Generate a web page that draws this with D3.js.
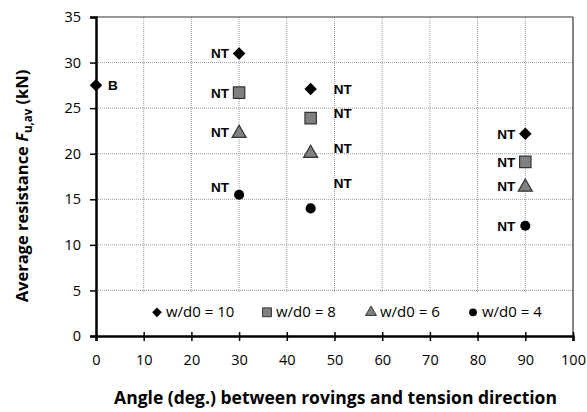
<!DOCTYPE html>
<html>
<head>
<meta charset="utf-8">
<script src="https://cdn.jsdelivr.net/npm/d3@7"></script>
<style>
  body { margin: 0; background: #fff; }
  svg { display: block; }
  .tick text { font-family: "Open Sans", sans-serif; font-size: 14.5px; fill: #000; }
  .lbl { font-family: Arial, "Liberation Sans", sans-serif; font-weight: bold; font-size: 13.5px; }
</style>
</head>
<body>
<svg id="chart" width="587" height="412"></svg>
<script>
// values
const angles = [0, 30, 45, 90];
const wd10 = [27.5, 31.0, 27.1, 22.2];
const wd8 = [null, 26.7, 23.9, 19.1];
const wd6 = [null, 22.4, 20.2, 16.5];
const wd4 = [null, 15.5, 14.0, 12.1];
const seriesNames = ["w/d0 = 10", "w/d0 = 8", "w/d0 = 6", "w/d0 = 4"];
const xTicks = [0, 10, 20, 30, 40, 50, 60, 70, 80, 90, 100];
const yTicks = [0, 5, 10, 15, 20, 25, 30, 35];

// text notes: [angle, value where label sits, text, side]
const notes = [
  [0, 27.5, "B", "right"],
  [30, 31.0, "NT", "left"], [30, 26.7, "NT", "left"], [30, 22.4, "NT", "left"], [30, 16.3, "NT", "left"],
  [45, 27.1, "NT", "right"], [45, 24.5, "NT", "right"], [45, 20.6, "NT", "right"], [45, 16.8, "NT", "right"],
  [90, 22.2, "NT", "left"], [90, 19.1, "NT", "left"], [90, 16.5, "NT", "left"], [90, 12.1, "NT", "left"]
];

const svg = d3.select("#chart");
const x = d3.scaleLinear().domain([0, 100]).range([96, 573]);
const y = d3.scaleLinear().domain([0, 35]).range([336, 17]);

// grid
svg.append("g").selectAll("line").data(xTicks.slice(1, -1)).enter().append("line")
  .attr("x1", d => x(d)).attr("x2", d => x(d)).attr("y1", y(35)).attr("y2", y(0))
  .attr("stroke", "#999").attr("stroke-width", 1).attr("stroke-dasharray", "1,1");
svg.append("g").selectAll("line").data(yTicks.slice(1, -1)).enter().append("line")
  .attr("x1", x(0)).attr("x2", x(100)).attr("y1", d => y(d)).attr("y2", d => y(d))
  .attr("stroke", "#999").attr("stroke-width", 1).attr("stroke-dasharray", "1,1");

// legend box covers the grid
svg.append("rect").attr("x", x(0) + 2).attr("y", y(4.7)).attr("width", x(100) - x(0) - 4)
  .attr("height", y(0) - y(4.7) - 2).attr("fill", "#fff");

// frame top and right
svg.append("line").attr("x1", x(0)).attr("x2", x(100)).attr("y1", y(35)).attr("y2", y(35))
  .attr("stroke", "#333").attr("stroke-width", 1.2);
svg.append("line").attr("x1", x(100)).attr("x2", x(100)).attr("y1", y(35)).attr("y2", y(0))
  .attr("stroke", "#333").attr("stroke-width", 1.2);

// axes
let xAxis = svg.append("g").attr("transform", `translate(0,${y(0)})`)
  .call(d3.axisBottom(x).tickValues(xTicks).tickSize(5).tickPadding(14));
xAxis.select(".domain").attr("stroke", "#000").attr("stroke-width", 2.5);
xAxis.selectAll(".tick line").attr("y1", -4).attr("stroke-width", 1.5);

let yAxis = svg.append("g").attr("transform", `translate(${x(0)},0)`)
  .call(d3.axisLeft(y).tickValues(yTicks).tickSize(6).tickPadding(9));
yAxis.select(".domain").attr("stroke", "#000").attr("stroke-width", 2.5);
yAxis.selectAll(".tick line").attr("stroke-width", 1.5);

// markers
const sym = [
  { type: d3.symbolDiamond2, size: 100, fill: "#000", stroke: "none" },
  { type: d3.symbolSquare, size: 130, fill: "#808080", stroke: "#333" },
  { type: d3.symbolTriangle, size: 85, fill: "#808080", stroke: "#333" },
  { type: d3.symbolCircle, size: 80, fill: "#000", stroke: "none" }
];
const series = [wd10, wd8, wd6, wd4];

series.forEach((vals, i) => {
  let pts = angles.map((a, j) => [a, vals[j]]).filter(p => p[1] != null);
  svg.append("g").selectAll("path").data(pts).enter().append("path")
    .attr("transform", d => `translate(${x(d[0])},${y(d[1]) + (i == 2 ? 1.5 : 0)})`)
    .attr("d", d3.symbol().type(sym[i].type).size(sym[i].size))
    .attr("fill", sym[i].fill).attr("stroke", sym[i].stroke).attr("stroke-width", 1.2);
});

// NT / B labels
svg.append("g").selectAll("text").data(notes).enter().append("text")
  .attr("class", "lbl")
  .attr("x", d => d[3] == "left" ? x(d[0]) - 10 : x(d[0]) + (d[2] == "B" ? 12 : 23))
  .attr("y", d => y(d[1]) + 5)
  .attr("text-anchor", d => d[3] == "left" ? "end" : "start")
  .text(d => d[2]);

// legend
const legendX = [157, 267, 371, 473];
const leg = svg.append("g").selectAll("g").data(seriesNames).enter().append("g")
  .attr("transform", (d, i) => `translate(${legendX[i]},${y(2.6)})`);
leg.append("path")
  .attr("d", (d, i) => d3.symbol().type(sym[i].type).size(sym[i].size * 0.6)())
  .attr("fill", (d, i) => sym[i].fill).attr("stroke", (d, i) => sym[i].stroke).attr("stroke-width", 1);
leg.append("text").attr("x", 9).attr("y", 5)
  .attr("font-family", "Open Sans, sans-serif").attr("font-size", 15)
  .text(d => d);

// axis titles
svg.append("text").attr("x", (x(0) + x(100)) / 2 + 1).attr("y", 404)
  .attr("text-anchor", "middle").attr("font-family", "Open Sans, sans-serif")
  .attr("font-weight", "bold").attr("font-size", 17.5)
  .text("Angle (deg.) between rovings and tension direction");

let yt = svg.append("text").attr("transform", "translate(28,186) rotate(-90)")
  .attr("text-anchor", "middle").attr("font-family", "Open Sans, sans-serif")
  .attr("font-weight", "bold").attr("font-size", 16.5);
yt.append("tspan").text("Average resistance ");
yt.append("tspan").attr("font-style", "italic").text("F");
yt.append("tspan").attr("font-size", 11.5).attr("dy", 4).text("u,av");
yt.append("tspan").attr("dy", -4).text(" (kN)");
</script>
</body>
</html>
